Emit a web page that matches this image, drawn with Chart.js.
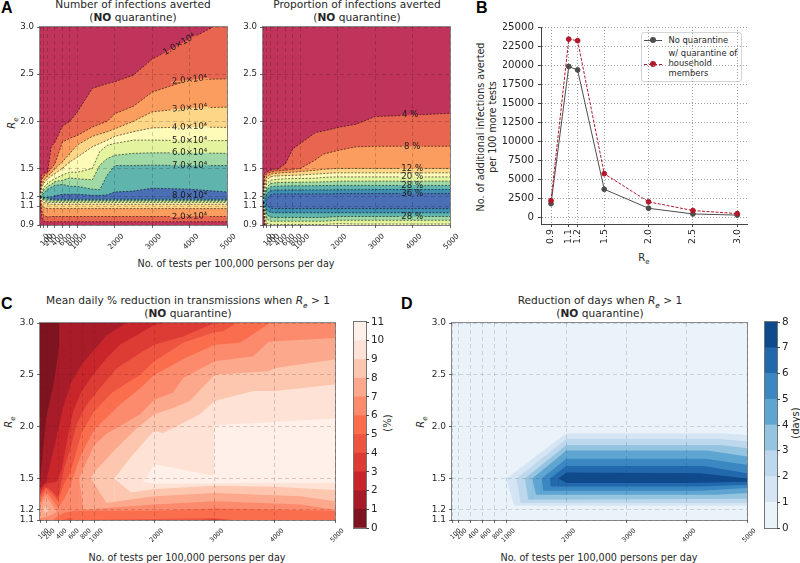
<!DOCTYPE html>
<html lang="en">

<head>
  <meta charset="UTF-8" />
  <title>Testing contours</title>
  <script src="https://cdn.jsdelivr.net/npm/chart.js"></script>
  <style>
    body { margin: 0; background: #fff; width: 800px; height: 563px; position: relative; overflow: hidden;
           font-family: 'DejaVu Sans', sans-serif; color: #262626; }
    canvas { position: absolute; }
    .t { position: absolute; transform: translate(-50%, -50%); white-space: nowrap; text-align: center; }
    .title { font-size: 10.6px; line-height: 12.6px; }
    .axis { font-size: 9.6px; }
    .rot { transform: translate(-50%, -50%) rotate(-90deg); }
    .letter { position: absolute; font: bold 16px 'Liberation Sans', sans-serif; color: #000; }
    sub { font-size: 70%; line-height: 0; }
    #legend { position: absolute; left: 641px; top: 32px; width: 101px; height: 50px; border: 1px solid #d5d5d5;
              border-radius: 3px; background: rgba(255,255,255,.9); box-sizing: border-box; }
    .lg { position: absolute; font-size: 8.4px; left: 668.5px; transform: translateY(-50%); white-space: nowrap; }
    .ln { position: absolute; left: 644px; width: 18px; height: 0; }
    .dot { position: absolute; left: 650px; width: 6px; height: 6px; border-radius: 50%; }
  </style>
</head>

<body>
  <div class="letter" style="left:1px;top:-1px">A</div>
  <div class="letter" style="left:476px;top:-1px">B</div>
  <div class="letter" style="left:1px;top:295px">C</div>
  <div class="letter" style="left:401px;top:295px">D</div>

  <div class="t title" style="left:133px;top:11px">Number of infections averted<br>(<b>NO</b> quarantine)</div>
  <div class="t title" style="left:357px;top:11px">Proportion of infections averted<br>(<b>NO</b> quarantine)</div>
  <div class="t title" style="left:188px;top:307px">Mean daily % reduction in transmissions when <i>R<sub>e</sub></i> &gt; 1<br>(<b>NO</b> quarantine)</div>
  <div class="t title" style="left:600px;top:307px">Reduction of days when <i>R<sub>e</sub></i> &gt; 1<br>(<b>NO</b> quarantine)</div>

  <div class="t axis" style="left:236px;top:263px">No. of tests per 100,000 persons per day</div>
  <div class="t axis" style="left:187px;top:557px">No. of tests per 100,000 persons per day</div>
  <div class="t axis" style="left:599px;top:557px">No. of tests per 100,000 persons per day</div>
  <div class="t axis" style="left:644px;top:257px;font-size:10px">R<sub>e</sub></div>
  <div class="t axis rot" style="left:486px;top:127px;line-height:11.5px">No. of additional infections averted<br>per 100 more tests</div>
  <div class="t axis rot" style="left:11px;top:123px;font-size:10px"><i>R<sub>e</sub></i></div>
  <div class="t axis rot" style="left:8px;top:422px;font-size:10px"><i>R<sub>e</sub></i></div>
  <div class="t axis rot" style="left:420px;top:422px;font-size:10px"><i>R<sub>e</sub></i></div>
  <div class="t axis rot" style="left:387px;top:423px;font-size:10px">(%)</div>
  <div class="t axis rot" style="left:795px;top:423px;font-size:10px">(days)</div>

  <div id="legend"></div>
  <div class="ln" style="top:39.5px;border-top:1.2px solid #4d4d4d"></div>
  <div class="dot" style="top:36.5px;background:#4d4d4d"></div>
  <div class="ln" style="top:63.5px;border-top:1.2px dashed #b2182b"></div>
  <div class="dot" style="top:60.5px;background:#b2182b"></div>
  <div class="lg" style="top:40px">No quarantine</div>
  <div class="lg" style="top:53px">w/ quarantine of</div>
  <div class="lg" style="top:63px">household</div>
  <div class="lg" style="top:73px">members</div>

  <script>
    // tick positions
    const testsTicksTop = [0, 100, 200, 400, 600, 800, 1000, 2000, 3000, 4000, 5000];
    const testsTicksBottom = [100, 200, 400, 600, 800, 1000, 2000, 3000, 4000, 5000];
    const reTicksTop = [0.9, 1.1, 1.2, 1.5, 2.0, 2.5, 3.0];
    const reTicksBottom = [1.1, 1.2, 1.5, 2.0, 2.5, 3.0];
    const casesTicks = [0, 2500, 5000, 7500, 10000, 12500, 15000, 17500, 20000, 22500, 25000];

    // panel B
    const reValues = [0.9, 1.1, 1.2, 1.5, 2.0, 2.5, 3.0];
    const noQuarantine = [1750, 19800, 19350, 3650, 1150, 400, 250];
    const withQuarantine = [2150, 23400, 23200, 5700, 2000, 850, 450];

    // panels A: Re at each contour level, on a common tests grid
    const testsGrid = [0, 40, 100, 200, 300, 400, 600, 800, 1000, 1400, 1600, 1800, 2000, 2500, 3000, 4000, 5000];

    const infUpper = [
      [1.2, 1.43, 1.45, 1.46, 1.73, 1.78, 1.95, 2.0, 2.1, 2.35, 2.375, 2.40, 2.42, 2.49, 2.66, 2.87, 3.08],
      [1.2, 1.375, 1.42, 1.45, 1.50, 1.55, 1.78, 1.82, 1.85, 1.94, 1.97, 2.0, 2.08, 2.16, 2.31, 2.44, 2.45],
      [1.2, 1.32, 1.375, 1.42, 1.45, 1.50, 1.57, 1.66, 1.75, 1.84, 1.865, 1.89, 1.92, 2.0, 2.10, 2.14, 2.15],
      [1.2, 1.29, 1.34, 1.39, 1.42, 1.445, 1.50, 1.57, 1.62, 1.73, 1.765, 1.80, 1.84, 1.89, 1.93, 1.94, 1.935],
      [1.2, 1.25, 1.30, 1.34, 1.37, 1.39, 1.43, 1.46, 1.46, 1.50, 1.68, 1.745, 1.765, 1.80, 1.80, 1.795, 1.795],
      [1.2, 1.225, 1.27, 1.31, 1.33, 1.36, 1.375, 1.40, 1.39, 1.38, 1.535, 1.605, 1.64, 1.66, 1.665, 1.665, 1.66],
      [1.2, 1.205, 1.24, 1.275, 1.30, 1.32, 1.33, 1.31, 1.31, 1.28, 1.275, 1.43, 1.53, 1.53, 1.535, 1.53, 1.53],
      [1.2, 1.19, 1.19, 1.19, 1.198, 1.21, 1.225, 1.225, 1.226, 1.215, 1.213, 1.22, 1.25, 1.26, 1.29, 1.28, 1.25]
    ];
    const infLower = [
      [1.2, 1.19, 1.19, 1.19, 1.173, 1.173, 1.173, 1.173, 1.173, 1.173, 1.173, 1.173, 1.173, 1.173, 1.173, 1.173, 1.173],
      [1.2, 1.19, 1.18, 1.17, 1.165, 1.162, 1.162, 1.162, 1.162, 1.162, 1.162, 1.162, 1.162, 1.162, 1.162, 1.162, 1.162],
      [1.2, 1.18, 1.17, 1.155, 1.152, 1.152, 1.152, 1.152, 1.152, 1.152, 1.152, 1.152, 1.152, 1.152, 1.152, 1.152, 1.152],
      [1.2, 1.175, 1.16, 1.14, 1.138, 1.138, 1.138, 1.138, 1.138, 1.138, 1.138, 1.138, 1.138, 1.138, 1.138, 1.138, 1.138],
      [1.2, 1.16, 1.14, 1.125, 1.12, 1.12, 1.12, 1.12, 1.12, 1.12, 1.12, 1.12, 1.12, 1.12, 1.12, 1.12, 1.12],
      [1.2, 1.12, 1.085, 1.075, 1.074, 1.074, 1.074, 1.074, 1.074, 1.074, 1.074, 1.074, 1.074, 1.074, 1.074, 1.074, 1.074],
      [1.2, 1.06, 1.0, 0.985, 0.99, 0.99, 0.99, 0.99, 0.99, 0.99, 0.99, 0.99, 0.99, 0.99, 0.99, 0.99, 0.99],
      [1.2, 0.985, 0.94, 0.935, 0.935, 0.935, 0.935, 0.935, 0.935, 0.935, 0.935, 0.935, 0.935, 0.935, 0.935, 0.935, 0.935]
    ];

    const propUpper = [
      [1.14, 1.445, 1.46, 1.48, 1.49, 1.495, 1.55, 1.71, 1.765, 1.88, 1.896, 1.914, 1.935, 1.97, 2.05, 2.065, 2.085],
      [1.14, 1.41, 1.445, 1.46, 1.47, 1.475, 1.48, 1.49, 1.50, 1.59, 1.65, 1.67, 1.69, 1.73, 1.735, 1.735, 1.735],
      [1.14, 1.35, 1.41, 1.44, 1.445, 1.45, 1.457, 1.46, 1.467, 1.48, 1.49, 1.495, 1.50, 1.50, 1.50, 1.50, 1.50],
      [1.14, 1.305, 1.375, 1.41, 1.42, 1.42, 1.425, 1.427, 1.43, 1.44, 1.445, 1.45, 1.453, 1.453, 1.453, 1.453, 1.453],
      [1.14, 1.27, 1.34, 1.375, 1.38, 1.385, 1.39, 1.392, 1.393, 1.396, 1.404, 1.408, 1.41, 1.41, 1.41, 1.41, 1.41],
      [1.14, 1.24, 1.30, 1.34, 1.347, 1.35, 1.352, 1.353, 1.354, 1.356, 1.358, 1.36, 1.365, 1.365, 1.365, 1.365, 1.365],
      [1.14, 1.215, 1.275, 1.304, 1.31, 1.312, 1.314, 1.315, 1.315, 1.317, 1.318, 1.319, 1.32, 1.32, 1.32, 1.32, 1.32],
      [1.14, 1.16, 1.23, 1.26, 1.27, 1.27, 1.272, 1.272, 1.272, 1.272, 1.272, 1.272, 1.274, 1.274, 1.276, 1.276, 1.276],
      [1.14, 1.14, 1.17, 1.22, 1.23, 1.23, 1.23, 1.23, 1.23, 1.23, 1.23, 1.23, 1.233, 1.233, 1.233, 1.233, 1.233]
    ];
    const propLower = [
      [1.14, 1.14, 1.11, 1.08, 1.074, 1.074, 1.074, 1.074, 1.074, 1.074, 1.074, 1.074, 1.074, 1.074, 1.074, 1.074, 1.074],
      [1.14, 1.12, 1.06, 1.035, 1.03, 1.03, 1.03, 1.03, 1.03, 1.03, 1.03, 1.03, 1.03, 1.03, 1.03, 1.03, 1.03],
      [1.14, 1.09, 1.01, 0.985, 0.98, 0.98, 0.98, 0.98, 0.98, 0.98, 0.98, 0.985, 0.99, 0.99, 0.99, 0.99, 0.99],
      [1.14, 1.05, 0.967, 0.94, 0.94, 0.94, 0.94, 0.94, 0.94, 0.94, 0.94, 0.945, 0.95, 0.95, 0.95, 0.95, 0.95],
      [1.14, 1.0, 0.92, 0.905, 0.905, 0.905, 0.905, 0.905, 0.905, 0.905, 0.905, 0.91, 0.915, 0.91, 0.91, 0.91, 0.91],
      [1.14, 0.96, 0.89, 0.88, 0.88, 0.88, 0.88, 0.88, 0.88, 0.88, 0.88, 0.88, 0.88, 0.88, 0.88, 0.88, 0.88],
      [1.14, 0.93, 0.88, 0.88, 0.88, 0.88, 0.88, 0.88, 0.88, 0.88, 0.88, 0.88, 0.88, 0.88, 0.88, 0.88, 0.88],
      [1.14, 0.905, 0.88, 0.88, 0.88, 0.88, 0.88, 0.88, 0.88, 0.88, 0.88, 0.88, 0.88, 0.88, 0.88, 0.88, 0.88],
      [1.14, 0.89, 0.88, 0.88, 0.88, 0.88, 0.88, 0.88, 0.88, 0.88, 0.88, 0.88, 0.88, 0.88, 0.88, 0.88, 0.88]
    ];

    // tests, Re, text, angle, band above and below the interrupted line
    const infLabels = [
      [3723, 2.815, '1.0×10⁴', -30, 0, 1], [4000, 2.44, '2.0×10⁴', -6, 1, 2], [4000, 2.14, '3.0×10⁴', -4, 2, 3],
      [4000, 1.94, '4.0×10⁴', -2, 3, 4], [4000, 1.795, '5.0×10⁴', 0, 4, 5], [4000, 1.665, '6.0×10⁴', 0, 5, 6],
      [4000, 1.53, '7.0×10⁴', 0, 6, 7], [4000, 1.205, '8.0×10⁴', 0], [4000, 0.99, '2.0×10⁴', -2, 2, 1]
    ];
    const propLabels = [
      [3938, 2.065, '4 %', 0, 0, 1], [3991, 1.735, '8 %', 0, 1, 2], [3991, 1.50, '12 %', 0, 2, 3], [3991, 1.41, '20 %', 0, 4, 5],
      [3991, 1.32, '28 %', 0, 6, 7], [3991, 1.233, '36 %', 0, 8, 9], [3991, 0.99, '28 %', 0, 7, 6]
    ];

    // panel C: [band index painted below the line, polyline of tests / Re]
    const reductionLevels = [1, 1, 1, 1, 1, 1, 1, 1, 1, 1, 1];
    const reductionContours = [
      [1, [[100,1.44],[139,1.70],[200,2.08],[344,2.47],[417,2.79],[417,3.1],[5000,3.1]]],
      [2, [[100,1.41],[200,1.47],[344,1.82],[483,2.18],[622,2.43],[817,2.62],[1011,2.75],[1205,2.88],[1528,3.0],[1700,3.1],[5000,3.1]]],
      [3, [[100,1.38],[200,1.45],[380,1.47],[456,1.58],[567,1.92],[650,2.15],[789,2.34],[983,2.5],[1205,2.66],[1428,2.79],[1762,2.9],[2000,2.984],[2178,3.0],[2400,3.1],[5000,3.1]]],
      [4, [[100,1.35],[200,1.42],[300,1.38],[400,1.31],[450,1.45],[500,1.6],[606,1.79],[706,2.02],[872,2.21],[1094,2.37],[1372,2.56],[1762,2.71],[2000,2.79],[2478,2.87],[3000,3.0],[3200,3.1],[5000,3.1]]],
      [5, [[100,1.31],[200,1.40],[300,1.35],[400,1.28],[500,1.45],[600,1.55],[700,1.75],[800,1.95],[1000,2.15],[1300,2.33],[1762,2.5],[2000,2.63],[2478,2.81],[3000,2.91],[3144,2.92],[3367,3.0],[3500,3.1],[5000,3.1]]],
      [6, [[100,1.27],[200,1.37],[300,1.3],[400,1.22],[500,1.3],[600,1.42],[700,1.6],[800,1.75],[1000,1.97],[1400,2.2],[1762,2.37],[2000,2.5],[2506,2.66],[3000,2.79],[3422,2.81],[3922,3.0],[4100,3.1],[5000,3.1]]],
      [7, [[100,1.22],[200,1.33],[300,1.25],[380,1.18]]],
      [7, [[750,1.5],[800,1.57],[1000,1.82],[1200,1.93],[1762,2.12],[2000,2.26],[2311,2.33],[2478,2.47],[3000,2.63],[3644,2.68],[3894,2.817],[4000,2.824],[5000,2.856]]],
      [8, [[150,1.2],[200,1.24],[250,1.2]]],
      [8, [[944,1.5],[1000,1.56],[1300,1.75],[1700,1.98],[2000,2.12],[2311,2.18],[2589,2.247],[2950,2.47],[3000,2.50],[3894,2.535],[4000,2.567],[5000,2.647]]],
      [9, [[1333,1.5],[1600,1.7],[1900,1.9],[2000,1.958],[2144,1.94],[2756,2.12],[3000,2.247],[3644,2.343],[4000,2.343],[5000,2.407]]],
      [10, [[1817,1.47],[2000,1.638],[2990,1.526],[3000,2.013],[5000,2.08]]],
      [9, [[1817,1.47],[2000,1.45],[5000,1.46]]],
      [8, [[1333,1.5],[1611,1.365],[2000,1.40],[3000,1.43],[4000,1.42],[5000,1.39]]],
      [7, [[944,1.5],[1206,1.263],[1983,1.33],[3000,1.36],[4428,1.33],[5000,1.28]]],
      [7, [[150,1.2],[200,1.16],[250,1.2]]],
      [6, [[750,1.5],[820,1.2],[2000,1.25],[3000,1.28],[4428,1.25],[5000,1.2]]],
      [6, [[100,1.12],[200,1.13],[300,1.15],[380,1.18]]],
      [5, [[100,1.08],[300,1.09],[400,1.14],[500,1.17],[700,1.19],[2000,1.19],[3000,1.21],[5000,1.19]]],
      [4, [[100,1.05],[400,1.09],[550,1.11],[600,1.13],[650,1.1],[2000,1.11],[3000,1.12],[3300,1.1],[5000,1.1]]],
      [3, [[2500,1.09],[3000,1.11],[3500,1.09]]]
    ];

    // panel D
    const daysLevels = [1, 1, 1, 1, 1, 1, 1, 1];
    const daysContours = [
      [1, [[1000,1.5],[2000,1.937],[4561,1.937],[5000,1.92]]],
      [2, [[1172,1.5],[2000,1.882],[4561,1.882],[5000,1.856]]],
      [3, [[1311,1.5],[2000,1.824],[4561,1.824],[5000,1.792]]],
      [4, [[1433,1.5],[2000,1.77],[4339,1.77],[5000,1.712]]],
      [5, [[1589,1.5],[2000,1.69],[4311,1.69],[5000,1.632]]],
      [6, [[1728,1.5],[2000,1.622],[4283,1.622],[5000,1.552]]],
      [7, [[1867,1.5],[2000,1.558],[4228,1.552],[5000,1.5]]],
      [6, [[1867,1.5],[2000,1.456],[4000,1.456],[5000,1.47]]],
      [5, [[1728,1.5],[1739,1.424],[4228,1.424],[5000,1.44]]],
      [4, [[1589,1.5],[1617,1.382],[4228,1.382],[5000,1.408]]],
      [3, [[1433,1.5],[1494,1.344],[4500,1.344],[5000,1.36]]],
      [2, [[1311,1.5],[1367,1.296],[5000,1.305]]],
      [1, [[1172,1.5],[1239,1.263],[5000,1.263]]],
      [0, [[1000,1.5],[1133,1.238],[5000,1.238]]]
    ];

    const spectral = ['#c0345b', '#e8664f', '#fb9d5e', '#fed688', '#fefab8', '#e3f39e', '#a0d9a5', '#5fb4ae', '#4b6fb5'];
    const spectralProp = ['#c0345b', '#e8664f', '#fb9d5e', '#fed688', '#fefab8', '#e3f39e', '#a0d9a5', '#5fb4ae', '#3f8fb5', '#4b6fb5'];
    const reds = ['#7d1420', '#a71c28', '#c9262c', '#dd3c34', '#ee5540', '#fa6e4e', '#fc8a6c', '#fca88c', '#fdc7af', '#fee2d6', '#fff0ea'];
    const blues = ['#eaf2fa', '#d6e5f4', '#bdd7ec', '#95c4e0', '#5ea5d2', '#3b87c2', '#2168ad', '#0f4a8c'];

    Chart.defaults.font.family = "'DejaVu Sans', sans-serif";
    Chart.defaults.color = '#262626';
    Chart.defaults.animation = false;

    const M = { l: 38, t: 6, r: 12, b: 36 };

    // frame, background and inline contour labels
    const panelExtras = {
      id: 'panelExtras',
      beforeDatasetsDraw(chart, args, o) {
        if (!o.bg) return;
        const a = chart.chartArea, c = chart.ctx;
        c.save();
        c.fillStyle = o.bg;
        c.fillRect(a.left, a.top, a.right - a.left, a.bottom - a.top);
        c.restore();
      },
      afterDatasetsDraw(chart, args, o) {
        const c = chart.ctx;
        (o.labels || []).forEach(function (l) {
          c.save();
          c.translate(chart.scales.x.getPixelForValue(l[0]), chart.scales.y.getPixelForValue(l[1]));
          c.rotate(l[3] * Math.PI / 180);
          c.font = o.labelFont;
          const w = c.measureText(l[2]).width + 3;
          if (l[4] !== undefined) {
            // break the dashed line under the text
            c.fillStyle = o.bands[l[4]];
            c.fillRect(-w / 2, -1.5, w, 1.5);
            c.fillStyle = o.bands[l[5]];
            c.fillRect(-w / 2, 0, w, 1.5);
          }
          c.fillStyle = '#1a1a1a';
          c.textAlign = 'center';
          c.textBaseline = 'middle';
          c.fillText(l[2], 0, 0);
          c.restore();
        });
      },
      afterDraw(chart, args, o) {
        if (!o.frame) return;
        const a = chart.chartArea, c = chart.ctx;
        c.save();
        c.strokeStyle = o.frame;
        c.lineWidth = 1;
        c.strokeRect(a.left - 0.5, a.top - 0.5, a.right - a.left + 1, a.bottom - a.top + 1);
        c.restore();
      }
    };

    function addCanvas(left, top, right, bottom, extra) {
      const cv = document.createElement('canvas');
      cv.width = right - left + M.l + M.r + (extra || 0);
      cv.height = bottom - top + M.t + M.b;
      cv.style.left = (left - M.l) + 'px';
      cv.style.top = (top - M.t) + 'px';
      document.body.appendChild(cv);
      return cv;
    }

    function fixedX(scale) { scale.height = M.b; scale.paddingLeft = 0; scale.paddingRight = 0; }
    function fixedY(scale) { scale.width = M.l; scale.paddingTop = 0; scale.paddingBottom = 0; }
    function useTicks(list) { return function (scale) { scale.ticks = list.map(v => ({ value: v })); }; }

    function gridTable(rows, colorIdx) {
      return rows.map((r, i) => [colorIdx(i), testsGrid.map((x, j) => [x, r[j]])]);
    }

    function contourChart(rect, o) {
      const datasets = o.contours.map(function (c, i) {
        return {
          data: c[1].map(p => ({ x: p[0], y: p[1] })),
          showLine: true, pointRadius: 0, tension: 0,
          fill: 'start',
          backgroundColor: o.colors[c[0]],
          borderColor: o.line || 'transparent',
          borderWidth: o.line ? 0.7 : 0,
          borderDash: o.line ? [2, 1.5] : [],
          order: o.contours.length - i
        };
      });
      new Chart(addCanvas(rect[0], rect[1], rect[2], rect[3]), {
        type: 'scatter',
        data: { datasets: datasets },
        plugins: [panelExtras],
        options: {
          responsive: false,
          layout: { padding: { top: M.t, right: M.r } },
          plugins: {
            legend: { display: false }, tooltip: { enabled: false },
            panelExtras: { bg: o.colors[0], bands: o.colors, labels: o.labels, labelFont: o.labelFont, frame: 'rgba(60,60,60,.6)' }
          },
          scales: {
            x: {
              type: 'linear', min: o.xMin, max: 5000,
              afterBuildTicks: useTicks(o.xTicks), afterFit: fixedX,
              border: { display: false, dash: [4, 3] },
              grid: { z: 1, color: o.gridColor, tickColor: '#444', tickLength: 3, lineWidth: 0.8 },
              ticks: { autoSkip: false, minRotation: 45, maxRotation: 45, labelOffset: 8, padding: 4, font: { size: o.xFont }, callback: v => String(v) }
            },
            y: {
              type: 'linear', min: o.yMin, max: 3.0,
              afterBuildTicks: useTicks(o.yTicks), afterFit: fixedY,
              border: { display: false, dash: [4, 3] },
              grid: { z: 1, color: o.gridColor, tickColor: '#444', tickLength: 3, lineWidth: 0.8 },
              ticks: { autoSkip: false, padding: 3, font: { size: o.yFont }, callback: v => v.toFixed(1) }
            }
          }
        }
      });
    }

    // bands are painted top to bottom, each one covering what lies below its line
    contourChart([40, 27, 227, 225], {
      xMin: 0, yMin: 0.9, xTicks: testsTicksTop, yTicks: reTicksTop, yFont: 8.6, xFont: 7.4,
      colors: spectral, line: 'rgba(0,0,0,.8)', gridColor: 'rgba(0,0,0,.22)',
      contours: gridTable(infUpper, i => i + 1).concat(gridTable(infLower, i => 7 - i)),
      labels: infLabels, labelFont: "8.6px 'DejaVu Sans'"
    });
    contourChart([263, 27, 450, 225], {
      xMin: 0, yMin: 0.9, xTicks: testsTicksTop, yTicks: reTicksTop, yFont: 8.6, xFont: 7.4,
      colors: spectralProp, line: 'rgba(0,0,0,.8)', gridColor: 'rgba(0,0,0,.22)',
      contours: gridTable(propUpper, i => i + 1).concat(gridTable(propLower, i => 8 - i)),
      labels: propLabels, labelFont: "8.6px 'DejaVu Sans'"
    });
    contourChart([40, 323, 335, 520], {
      xMin: 100, yMin: 1.1, xTicks: testsTicksBottom, yTicks: reTicksBottom, yFont: 9, xFont: 6.4,
      colors: reds, gridColor: 'rgba(90,20,20,.25)', contours: reductionContours
    });
    contourChart([452, 323, 747, 520], {
      xMin: 100, yMin: 1.1, xTicks: testsTicksBottom, yTicks: reTicksBottom, yFont: 9, xFont: 6.4,
      colors: blues, gridColor: 'rgba(40,60,90,.22)', contours: daysContours
    });

    // colour bars
    function colorBar(rect, levels, colors) {
      new Chart(addCanvas(rect[0], rect[1], rect[2], rect[3], 18), {
        type: 'bar',
        data: {
          labels: [''],
          datasets: levels.map((v, i) => ({
            data: [v], backgroundColor: colors[i], barPercentage: 1, categoryPercentage: 1, borderWidth: 0
          }))
        },
        plugins: [panelExtras],
        options: {
          responsive: false,
          layout: { padding: { top: M.t, bottom: M.b, left: M.l } },
          plugins: { legend: { display: false }, tooltip: { enabled: false }, panelExtras: { frame: 'rgba(70,70,70,.75)' } },
          scales: {
            x: { stacked: true, display: false },
            y: {
              stacked: true, position: 'right', min: 0, max: levels.length,
              afterFit(scale) { scale.width = M.r + 18; scale.paddingTop = 0; scale.paddingBottom = 0; },
              border: { display: false },
              grid: { drawOnChartArea: false, tickColor: '#444', tickLength: 3 },
              ticks: { stepSize: 1, padding: 2, font: { size: 10.4 } }
            }
          }
        }
      });
    }
    colorBar([354, 322, 366, 528], reductionLevels, reds);
    colorBar([765, 322, 777, 528], daysLevels, blues);

    // panel B
    new Chart(addCanvas(541, 27, 747, 224), {
      type: 'scatter',
      data: {
        datasets: [
          {
            label: 'w/ quarantine of household members',
            data: reValues.map((r, i) => ({ x: r, y: withQuarantine[i] })),
            showLine: true, tension: 0, borderColor: '#b2182b', backgroundColor: '#b2182b',
            borderWidth: 1, borderDash: [3, 1.5], pointRadius: 2.4
          },
          {
            label: 'No quarantine',
            data: reValues.map((r, i) => ({ x: r, y: noQuarantine[i] })),
            showLine: true, tension: 0, borderColor: '#4d4d4d', backgroundColor: '#4d4d4d',
            borderWidth: 1, pointRadius: 2.4
          }
        ]
      },
      options: {
        responsive: false,
        layout: { padding: { top: M.t, right: M.r } },
        plugins: { legend: { display: false }, tooltip: { enabled: false } },
        scales: {
          x: {
            type: 'linear', min: 0.787, max: 3.11,
            afterBuildTicks: useTicks(reValues), afterFit: fixedX,
            border: { display: true, color: '#444', dash: [1, 2] },
            grid: { color: '#a0a0a0', tickColor: '#444', tickLength: 3 },
            ticks: { autoSkip: false, minRotation: 90, maxRotation: 90, padding: 2, font: { size: 9.4 }, callback: v => v.toFixed(1) }
          },
          y: {
            type: 'linear', min: -920, max: 25000,
            afterBuildTicks: useTicks(casesTicks), afterFit: fixedY,
            border: { display: true, color: '#444', dash: [1, 2] },
            grid: { color: '#a0a0a0', tickColor: '#444', tickLength: 3 },
            ticks: { autoSkip: false, padding: 4, font: { size: 10.2 }, callback: v => String(v) }
          }
        }
      }
    });
  </script>
</body>

</html>
